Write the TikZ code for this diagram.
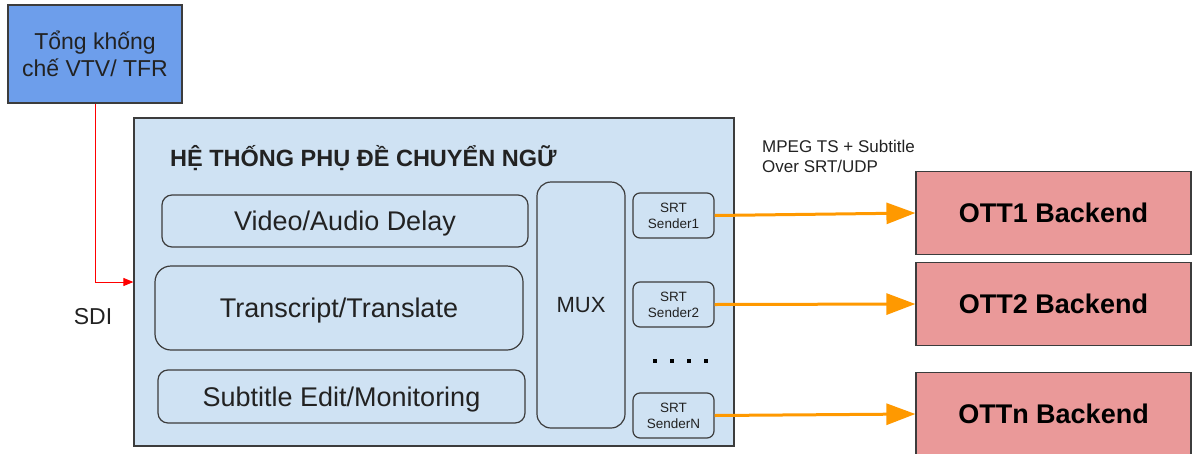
\documentclass[tikz,border=0pt]{standalone}
\usepackage{fontspec}
\setmainfont{Liberation Sans}
\usetikzlibrary{arrows.meta}

\definecolor{ctrlblue}{HTML}{6D9EEB}
\definecolor{sysblue}{HTML}{CFE2F3}
\definecolor{ottpink}{HTML}{EA9999}
\definecolor{streamorange}{HTML}{FF9900}
\definecolor{edgegray}{HTML}{3C3C3C}
\definecolor{textgray}{HTML}{222222}

\tikzset{
  box/.style={draw=edgegray, line width=1.2pt, inner sep=0pt, align=center, text=textgray},
  module/.style={box, rounded corners=10pt, text depth=0pt},
  sender/.style={box, rounded corners=7pt, minimum width=81pt, minimum height=45pt,
    font=\fontsize{13.5}{16}\selectfont},
  backend/.style={box, fill=ottpink, minimum width=275pt, minimum height=83pt,
    font=\bfseries\fontsize{27}{30}\selectfont, text=black},
  stream/.style={draw=streamorange, line width=3pt,
    -{Triangle[length=29pt,width=21pt]}},
  feed/.style={draw=red, line width=1pt, -{Triangle[length=10pt,width=8pt]}},
}

\begin{document}
\begin{tikzpicture}[x=1pt,y=-1pt]
\useasboundingbox (0,0) rectangle (1193,453);

% source
\node[box, fill=ctrlblue, minimum width=174pt, minimum height=98pt,
  font=\fontsize{23}{27}\selectfont] (ctrl) at (95,54) {Tổng khống\\chế VTV/ TFR};

% subtitle system
\node[box, fill=sysblue, minimum width=600pt, minimum height=328pt] (sys) at (434,282) {};
\node[font=\bfseries\fontsize{23.5}{26}\selectfont, text=textgray, anchor=west, inner sep=0pt]
  (title) at (170,158) {HỆ THỐNG PHỤ ĐỀ CHUYỂN NGỮ};

\node[module, minimum width=366pt, minimum height=52pt,
  font=\fontsize{27}{30}\selectfont] (delay) at (345,221) {Video/Audio Delay};
\node[module, rounded corners=16pt, minimum width=368pt, minimum height=84pt,
  font=\fontsize{27}{30}\selectfont] (trans) at (339,308) {Transcript/Translate};
\node[module, minimum width=367pt, minimum height=53pt,
  font=\fontsize{27}{30}\selectfont] (edit) at (341.5,396.5) {Subtitle Edit/Monitoring};

\node[module, rounded corners=14pt, minimum width=88pt, minimum height=246pt,
  font=\fontsize{22}{24}\selectfont] (mux) at (581,305) {MUX};

\node[sender] (s1) at (673.5,215.5) {SRT\\Sender1};
\node[sender] (s2) at (673.5,304.5) {SRT\\Sender2};
\node[sender] (sn) at (673.5,415.5) {SRT\\SenderN};

% ellipsis between senders
\foreach \i/\xx in {1/655,2/672,3/689,4/706}
  \fill[black] (\xx-2,359) rectangle (\xx+2,363);

% backends
\node[backend] (ott1) at (1053.5,213) {OTT1 Backend};
\node[backend] (ott2) at (1053.5,304) {OTT2 Backend};
\node[backend] (ottn) at (1053.5,414) {OTTn Backend};

% labels
\node[anchor=west, align=left, inner sep=0pt, text=textgray,
  font=\fontsize{17}{20}\selectfont] (proto) at (762,156) {MPEG TS + Subtitle\\Over SRT/UDP};
\node[inner sep=0pt, text=textgray, font=\fontsize{23}{26}\selectfont] (sdi) at (93,317) {SDI};

% connections
\draw[feed] (ctrl.south) |- (sys.west);
\draw[stream] (s1.east) -- (ott1.west);
\draw[stream] (s2.east) -- (ott2.west);
\draw[stream] (sn.east) -- (ottn.west);
\end{tikzpicture}
\end{document}
